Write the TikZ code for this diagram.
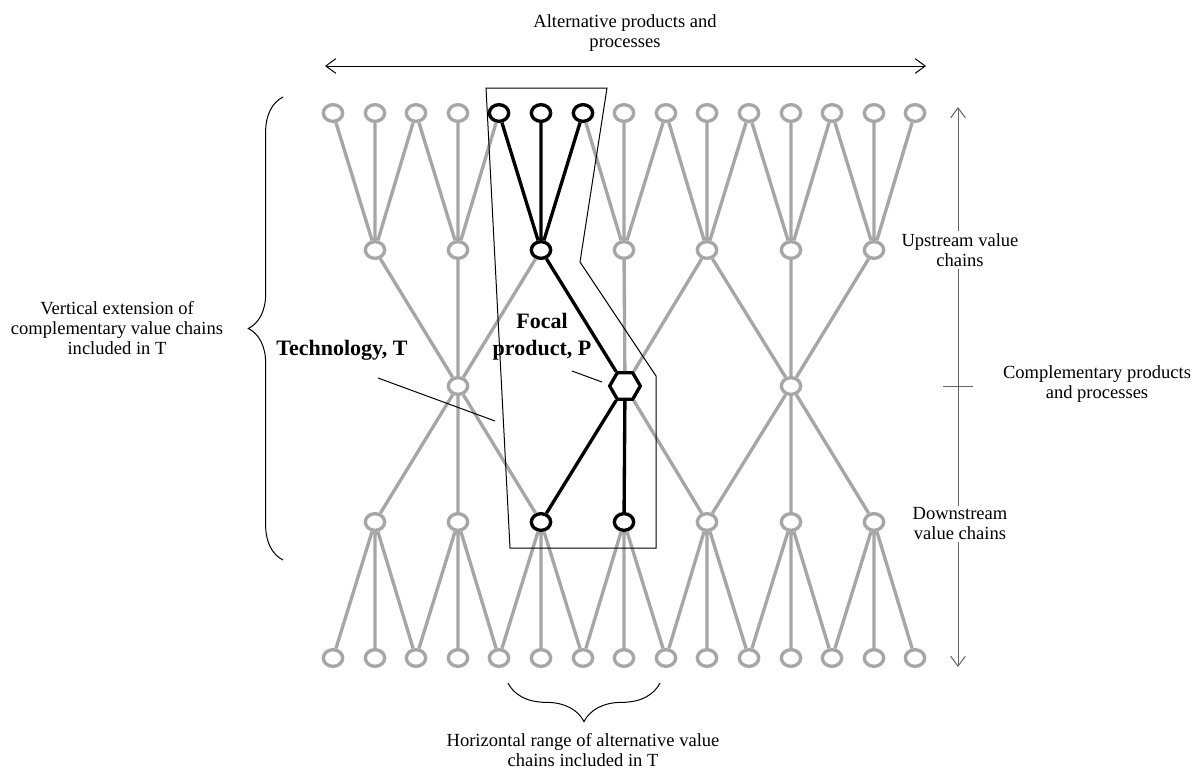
\documentclass[tikz,border=0pt]{standalone}
\usepackage{fontspec}
\setmainfont{Liberation Serif}
\usetikzlibrary{shapes.geometric,arrows.meta,decorations.pathreplacing}

\tikzset{every picture/.style={line width=0.75pt}}
\tikzset{
  greynode/.style={ellipse, draw={rgb, 255:red, 166; green, 166; blue, 166}, line width=2.5pt, minimum width=14.5pt, minimum height=12.5pt, inner sep=0pt},
  blacknode/.style={greynode, draw=black},
  hexnode/.style={regular polygon, regular polygon sides=6, draw=black, line width=2.5pt, minimum size=23pt, inner sep=0pt},
  greyedge/.style={draw={rgb, 255:red, 166; green, 166; blue, 166}, line width=2.5pt},
  blackedge/.style={draw=black, line width=2.5pt},
  plainlbl/.style={font=\fontsize{13.9}{15}\selectfont, align=center, inner sep=1.5pt},
  boldlbl/.style={font=\fontsize{16.5}{20}\selectfont\bfseries, align=center, inner sep=0.75pt},
  axisline/.style={color={rgb, 255:red, 100; green, 100; blue, 100}},
  barbs/.style={{Straight Barb[length=7.5pt,width=11pt]}-{Straight Barb[length=7.5pt,width=11pt]}}
}

\begin{document}
\begin{tikzpicture}[x=0.75pt,y=0.75pt,yscale=-1,xscale=1]
\useasboundingbox (0,0) rectangle (1200,772);

%Top row of chain nodes
\node[greynode] (a0) at (333,113) {};
\node[greynode] (a1) at (375,113) {};
\node[greynode] (a2) at (416,113) {};
\node[greynode] (a3) at (458,113) {};
\node[blacknode] (a4) at (499,113) {};
\node[blacknode] (a5) at (541,113) {};
\node[blacknode] (a6) at (583,113) {};
\node[greynode] (a7) at (624,113) {};
\node[greynode] (a8) at (666,113) {};
\node[greynode] (a9) at (707,113) {};
\node[greynode] (a10) at (749,113) {};
\node[greynode] (a11) at (791,113) {};
\node[greynode] (a12) at (832,113) {};
\node[greynode] (a13) at (874,113) {};
\node[greynode] (a14) at (915,113) {};
%Second row
\node[greynode] (b1) at (375,250) {};
\node[greynode] (b3) at (458,250) {};
\node[blacknode] (b5) at (541,250) {};
\node[greynode] (b7) at (624,250) {};
\node[greynode] (b9) at (707,250) {};
\node[greynode] (b11) at (791,250) {};
\node[greynode] (b13) at (874,250) {};
%Middle row
\node[greynode] (c3) at (458,386) {};
\node[hexnode] (c7) at (625,386) {};
\node[greynode] (c11) at (791,386) {};
%Fourth row
\node[greynode] (d1) at (375,522) {};
\node[greynode] (d3) at (458,522) {};
\node[blacknode] (d5) at (541,522) {};
\node[blacknode] (d7) at (624,522) {};
\node[greynode] (d9) at (707,522) {};
\node[greynode] (d11) at (791,522) {};
\node[greynode] (d13) at (874,522) {};
%Bottom row
\node[greynode] (e0) at (333,658) {};
\node[greynode] (e1) at (375,658) {};
\node[greynode] (e2) at (416,658) {};
\node[greynode] (e3) at (458,658) {};
\node[greynode] (e4) at (499,658) {};
\node[greynode] (e5) at (541,658) {};
\node[greynode] (e6) at (583,658) {};
\node[greynode] (e7) at (624,658) {};
\node[greynode] (e8) at (666,658) {};
\node[greynode] (e9) at (707,658) {};
\node[greynode] (e10) at (749,658) {};
\node[greynode] (e11) at (791,658) {};
\node[greynode] (e12) at (832,658) {};
\node[greynode] (e13) at (874,658) {};
\node[greynode] (e14) at (915,658) {};

%Grey links, upstream
\draw[greyedge] (b1) -- (a0) (b1) -- (a1) (b1) -- (a2) ;
\draw[greyedge] (b3) -- (a2) (b3) -- (a3) (b3) -- (a4) ;
\draw[greyedge] (b7) -- (a6) (b7) -- (a7) (b7) -- (a8) ;
\draw[greyedge] (b9) -- (a8) (b9) -- (a9) (b9) -- (a10) ;
\draw[greyedge] (b11) -- (a10) (b11) -- (a11) (b11) -- (a12) ;
\draw[greyedge] (b13) -- (a12) (b13) -- (a13) (b13) -- (a14) ;
\draw[greyedge] (c3) -- (b1) (c3) -- (b3) (c3) -- (b5) ;
\draw[greyedge] (c7) -- (b7) (c7) -- (b9) ;
\draw[greyedge] (c11) -- (b9) (c11) -- (b11) (c11) -- (b13) ;
%Grey links, downstream
\draw[greyedge] (c3) -- (d1) (c3) -- (d3) (c3) -- (d5) ;
\draw[greyedge] (c7) -- (d9) ;
\draw[greyedge] (c11) -- (d9) (c11) -- (d11) (c11) -- (d13) ;
\draw[greyedge] (d1) -- (e0) (d1) -- (e1) (d1) -- (e2) ;
\draw[greyedge] (d3) -- (e2) (d3) -- (e3) (d3) -- (e4) ;
\draw[greyedge] (d5) -- (e4) (d5) -- (e5) (d5) -- (e6) ;
\draw[greyedge] (d7) -- (e6) (d7) -- (e7) (d7) -- (e8) ;
\draw[greyedge] (d9) -- (e8) (d9) -- (e9) (d9) -- (e10) ;
\draw[greyedge] (d11) -- (e10) (d11) -- (e11) (d11) -- (e12) ;
\draw[greyedge] (d13) -- (e12) (d13) -- (e13) (d13) -- (e14) ;
%Black links of the focal chain
\draw[blackedge] (b5) -- (a4) (b5) -- (a5) (b5) -- (a6) ;
\draw[blackedge] (b5) -- (c7) ;
\draw[blackedge] (c7) -- (d5) (c7) -- (d7) ;

%Outline of technology T
\draw (486,88) -- (607,88) -- (580,262) -- (656,376) -- (656,548) -- (510,548) -- cycle ;

%Axes
\coordinate (hleft) at (325,66) ;
\coordinate (hright) at (926,66) ;
\draw[barbs] (hleft) -- (hright) ;
\coordinate (vtop) at (958,107) ;
\coordinate (vbot) at (958,667) ;
\draw[barbs, axisline] (vtop) -- (vbot) ;
\coordinate (tickl) at (943,386) ;
\coordinate (tickr) at (973,386) ;
\draw[axisline] (tickl) -- (tickr) ;

%Braces
\draw[decorate, decoration={brace, amplitude=26pt}] (283,560) -- (283,97) ;
\draw[decorate, decoration={brace, amplitude=29pt}] (660,683) -- (508,683) ;

%Pointers
\coordinate (techfoot) at (378,378) ;
\coordinate (techtip) at (495,421) ;
\draw (techfoot) -- (techtip) ;
\coordinate (focalfoot) at (572,371) ;
\coordinate (focaltip) at (602,382) ;
\draw (focalfoot) -- (focaltip) ;

% Text Node
\node[plainlbl] (alttext) at (625,33) {Alternative products and\\processes};
% Text Node
\node[plainlbl] (verttext) at (117,328) {Vertical extension of\\complementary value chains\\included in T};
% Text Node
\node[plainlbl] (hortext) at (583,750) {Horizontal range of alternative value\\chains included in T};
% Text Node
\node[plainlbl, fill=white] (uptext) at (960,250) {Upstream value\\chains};
% Text Node
\node[plainlbl, fill=white] (downtext) at (960,524) {Downstream\\value chains};
% Text Node
\node[plainlbl] (comptext) at (1097,384) {Complementary products\\and processes};
% Text Node
\node[boldlbl] (techtext) at (342,350) {Technology, T};
% Text Node
\node[boldlbl] (focaltext) at (542,337) {Focal\\product, P};

\end{tikzpicture}
\end{document}
